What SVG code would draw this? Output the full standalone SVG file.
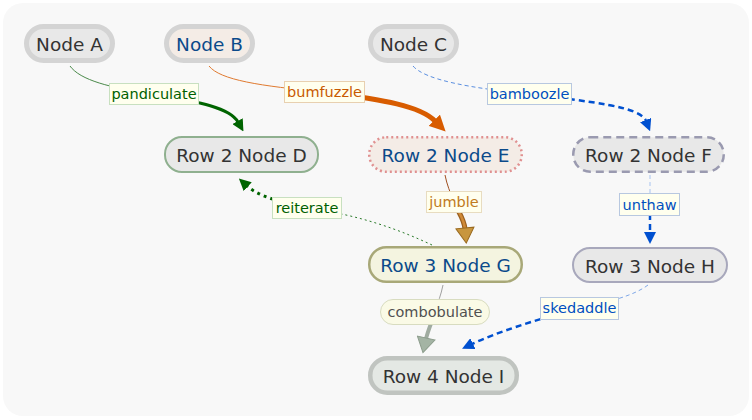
<svg xmlns="http://www.w3.org/2000/svg" width="752" height="420" viewBox="0 0 752 420">
<style>
.nt{font-family:"DejaVu Sans","Liberation Sans",sans-serif;font-size:18.5px;text-anchor:middle}
.lt{font-family:"DejaVu Sans","Liberation Sans",sans-serif;font-size:14.5px;text-anchor:middle}
.lb{fill:#ffffee;stroke-width:1}
.e{fill:none}
</style>
<defs>
<marker id="mGreen" markerUnits="userSpaceOnUse" orient="auto" viewBox="0 0 12 12" markerWidth="12" markerHeight="12" refX="1" refY="6"><path d="M0,0 L12,6 L0,12 z" fill="#006400"/></marker>
<marker id="mOrange" markerUnits="userSpaceOnUse" orient="auto" viewBox="0 0 16 16" markerWidth="16" markerHeight="16" refX="1" refY="8"><path d="M0,0 L16,8 L0,16 z" fill="#d85c00"/></marker>
<marker id="mBlue" markerUnits="userSpaceOnUse" orient="auto" viewBox="0 0 12 12" markerWidth="12" markerHeight="12" refX="1" refY="6"><path d="M0,0 L12,6 L0,12 z" fill="#0050d0"/></marker>
<marker id="mJumble" markerUnits="userSpaceOnUse" orient="auto" viewBox="-1 -1 17 20" markerWidth="17" markerHeight="20" refX="1" refY="9"><path d="M0,0 L15,9 L0,18 z" fill="#c8963e" stroke="#9a6a20" stroke-width="1"/></marker>
<marker id="mGray" markerUnits="userSpaceOnUse" orient="auto" viewBox="-1 -1 17 20" markerWidth="17" markerHeight="20" refX="1" refY="9"><path d="M0,0 L15,9 L0,18 z" fill="#a4b4a4" stroke="#8c9c8c" stroke-width="1"/></marker>
</defs>
<rect x="0" y="0" width="752" height="420" fill="#ffffff"/>
<rect x="3" y="3" width="746" height="413" rx="20" fill="#f8f8f8"/>

<g id="connectors">
<path class="e" d="M70,66 C80,80 110,88 154,94" stroke="#4a8a4a" stroke-width="1"/>
<path class="e" d="M154,94 C200,102 230,108 238,122" stroke="#006400" stroke-width="3" marker-end="url(#mGreen)"/>
<path class="e" d="M209,66 C220,80 260,86 324,92" stroke="#e07a30" stroke-width="1"/>
<path class="e" d="M324,92 C385,100 420,106 435,121" stroke="#d85c00" stroke-width="5" marker-end="url(#mOrange)"/>
<path class="e" d="M413,66 C425,80 470,88 529,94" stroke="#5b8fe0" stroke-width="1" stroke-dasharray="4,3"/>
<path class="e" d="M529,94 C590,102 640,106 646,121" stroke="#0050d0" stroke-width="2.5" stroke-dasharray="6,4" marker-end="url(#mBlue)"/>
<path class="e" d="M432,245 C400,230 360,215 307,208" stroke="#2a7a2a" stroke-width="1" stroke-dasharray="2,3"/>
<path class="e" d="M307,208 C280,202 258,196 247,186" stroke="#006400" stroke-width="3" stroke-dasharray="3,4" marker-end="url(#mGreen)"/>
<path class="e" d="M445,175 C447,185 450,192 454,202" stroke="#a05020" stroke-width="1"/>
<path class="e" d="M454,202 C458,212 464,218 465,229" stroke="#9a6020" stroke-width="5"/>
<path class="e" d="M454,202 C458,212 464,218 465,229" stroke="#d08a38" stroke-width="2.5" marker-end="url(#mJumble)"/>
<path class="e" d="M650,175 L650,204" stroke="#a8c4f0" stroke-width="1" stroke-dasharray="4,3"/>
<path class="e" d="M650,204 L650,233" stroke="#0050d0" stroke-width="2.5" stroke-dasharray="6,4" marker-end="url(#mBlue)"/>
<path class="e" d="M443,285 C441,295 438,302 435,312" stroke="#a0a0a0" stroke-width="1"/>
<path class="e" d="M435,312 C432,322 428,330 426,339" stroke="#a0aca0" stroke-width="4" marker-end="url(#mGray)"/>
<path class="e" d="M648,285 C635,295 610,302 579,308" stroke="#80a8e8" stroke-width="1" stroke-dasharray="4,3"/>
<path class="e" d="M579,308 C535,320 495,333 472,344" stroke="#0050d0" stroke-width="2.5" stroke-dasharray="6,4" marker-end="url(#mBlue)"/>

<rect class="lb" x="109.5" y="83.5" width="89" height="21" stroke="#c8e0c0"/>
<text class="lt" x="154" y="99" fill="#006000">pandiculate</text>
<rect class="lb" x="284.5" y="81.5" width="80" height="21" stroke="#e8d0b0"/>
<text class="lt" x="324.5" y="97" fill="#c85a00">bumfuzzle</text>
<rect class="lb" x="487.5" y="83.5" width="84" height="21" stroke="#b8c8e0"/>
<text class="lt" x="529.5" y="99" fill="#0050c0">bamboozle</text>
<rect class="lb" x="272.5" y="197.5" width="69" height="21" stroke="#c8e0c0"/>
<text class="lt" x="307" y="213" fill="#006000">reiterate</text>
<rect class="lb" x="426.5" y="191.5" width="55" height="21" stroke="#e8dcc0"/>
<text class="lt" x="454" y="207" fill="#c07a20">jumble</text>
<rect class="lb" x="619.5" y="193.5" width="60" height="22" stroke="#b8c8e0"/>
<text class="lt" x="649.5" y="209.5" fill="#0050c0">unthaw</text>
<rect x="380.5" y="299.5" width="109" height="25" rx="12.5" fill="#fafae6" stroke="#d8dcc0"/>
<text class="lt" x="435" y="317" fill="#505050">combobulate</text>
<rect class="lb" x="540.5" y="297.5" width="78" height="22" stroke="#b8c8e0"/>
<text class="lt" x="579.5" y="313" fill="#0050c0">skedaddle</text>
</g>

<g id="nodeA"><rect x="26.5" y="26.5" width="86" height="34" rx="17" fill="#e8e8e8" stroke="#d4d4d4" stroke-width="5"/><text class="nt" x="69.5" y="51" fill="#333333">Node A</text></g>
<g id="nodeB"><rect x="166.5" y="26.5" width="86" height="34" rx="17" fill="#f4ece6" stroke="#d4d4d4" stroke-width="5"/><text class="nt" x="209.5" y="51" fill="#0b4a8a">Node B</text></g>
<g id="nodeC"><rect x="370.5" y="26.5" width="86" height="34" rx="17" fill="#e8e8e8" stroke="#d4d4d4" stroke-width="5"/><text class="nt" x="413.5" y="51" fill="#333333">Node C</text></g>
<g id="nodeD"><rect x="165" y="137" width="153" height="35" rx="17" fill="#e8e8e8" stroke="#8fb08f" stroke-width="2"/><text class="nt" x="241.5" y="162" fill="#333333">Row 2 Node D</text></g>
<g id="nodeE"><rect x="369.25" y="137.25" width="152.5" height="34.5" rx="17" fill="#f4ece6" stroke="#e09090" stroke-width="2.5" stroke-dasharray="2,3"/><text class="nt" x="445.5" y="162" fill="#0b4a8a">Row 2 Node E</text></g>
<g id="nodeF"><rect x="573.25" y="137.25" width="150.5" height="34.5" rx="17" fill="#e8e8e8" stroke="#9a9ab0" stroke-width="2.5" stroke-dasharray="8,5"/><text class="nt" x="648.5" y="162" fill="#333333">Row 2 Node F</text></g>
<g id="nodeG"><rect x="369.25" y="247.25" width="152.5" height="34.5" rx="17" fill="#f4f4e0" stroke="#a8a878" stroke-width="2.5"/><text class="nt" x="445.5" y="272" fill="#0b4a8a">Row 3 Node G</text></g>
<g id="nodeH"><rect x="573" y="248" width="154" height="34" rx="17" fill="#e8e8e8" stroke="#a8a8bc" stroke-width="2"/><text class="nt" x="650" y="272.5" fill="#333333">Row 3 Node H</text></g>
<g id="nodeI"><rect x="370.25" y="358.25" width="146.5" height="34.5" rx="17" fill="#e4e8e4" stroke="#c0c4c0" stroke-width="4.5"/><text class="nt" x="443.5" y="383" fill="#333333">Row 4 Node I</text></g>
</svg>
